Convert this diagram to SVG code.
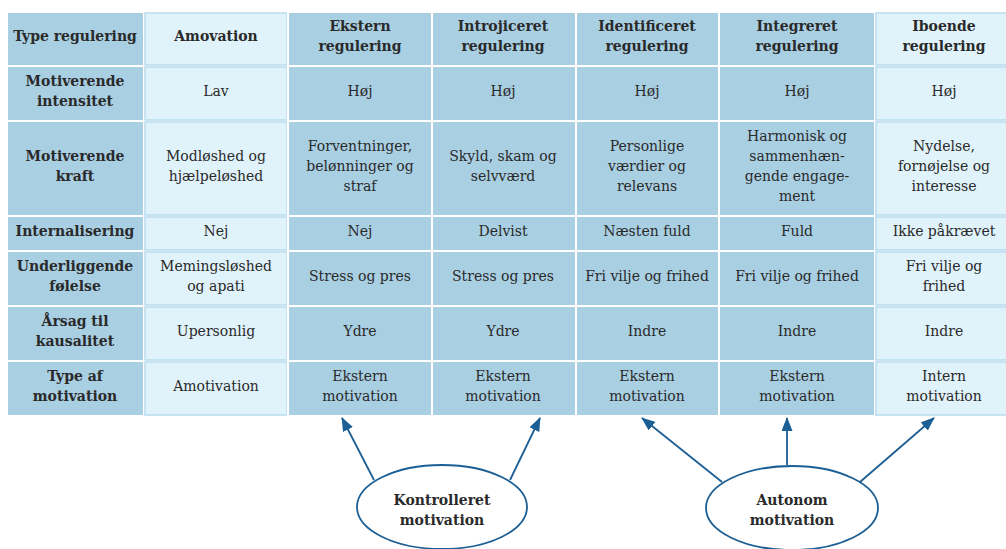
<svg xmlns="http://www.w3.org/2000/svg" width="1006" height="549" viewBox="0 0 1006 549">
<style>
.d{fill:#a9cfe3;stroke:#ffffff;stroke-width:2}
.l{fill:#e0f2fa;stroke:#b9dcee;stroke-width:1.5}
text{font-family:"DejaVu Serif","Liberation Serif",serif;font-size:14px;fill:#2a2a2a;text-anchor:middle}
.b{font-weight:bold}
.conn line{stroke:#1b5f95;stroke-width:1.8}
.ell{fill:#ffffff;stroke:#1b5f95;stroke-width:1.8}
</style>
<defs>
<marker id="ah" viewBox="0 0 14 11" refX="13" refY="5.5" markerWidth="14" markerHeight="11" markerUnits="userSpaceOnUse" orient="auto">
<path d="M0,0 L14,5.5 L0,11 z" fill="#1b5f95"/>
</marker>
</defs>
<rect width="1006" height="549" fill="#ffffff"/>
<g id="col0">
<rect class="d" x="7" y="12" width="137" height="54"/>
<rect class="d" x="7" y="66" width="137" height="55"/>
<rect class="d" x="7" y="121" width="137" height="95"/>
<rect class="d" x="7" y="216" width="137" height="35"/>
<rect class="d" x="7" y="251" width="137" height="55"/>
<rect class="d" x="7" y="306" width="137" height="55"/>
<rect class="d" x="7" y="361" width="137" height="55"/>
<text class="b" x="75" y="41">Type regulering</text>
<text class="b" x="75" y="86">Motiverende</text><text class="b" x="75" y="106">intensitet</text>
<text class="b" x="75" y="161">Motiverende</text><text class="b" x="75" y="181">kraft</text>
<text class="b" x="75" y="236">Internalisering</text>
<text class="b" x="75" y="271">Underliggende</text><text class="b" x="75" y="291">følelse</text>
<text class="b" x="75" y="326">Årsag til</text><text class="b" x="75" y="346">kausalitet</text>
<text class="b" x="75" y="381">Type af</text><text class="b" x="75" y="401">motivation</text>
</g>
<g id="col1">
<rect class="l" x="145" y="13" width="142" height="52"/>
<rect class="l" x="145" y="67" width="142" height="53"/>
<rect class="l" x="145" y="122" width="142" height="93"/>
<rect class="l" x="145" y="217" width="142" height="33"/>
<rect class="l" x="145" y="252" width="142" height="53"/>
<rect class="l" x="145" y="307" width="142" height="53"/>
<rect class="l" x="145" y="362" width="142" height="53"/>
<text class="b" x="216" y="41">Amovation</text>
<text x="216" y="96">Lav</text>
<text x="216" y="161">Modløshed og</text><text x="216" y="181">hjælpeløshed</text>
<text x="216" y="236">Nej</text>
<text x="216" y="271">Memingsløshed</text><text x="216" y="291">og apati</text>
<text x="216" y="336">Upersonlig</text>
<text x="216" y="391">Amotivation</text>
</g>
<g id="col2">
<rect class="d" x="288" y="12" width="144" height="54"/>
<rect class="d" x="288" y="66" width="144" height="55"/>
<rect class="d" x="288" y="121" width="144" height="95"/>
<rect class="d" x="288" y="216" width="144" height="35"/>
<rect class="d" x="288" y="251" width="144" height="55"/>
<rect class="d" x="288" y="306" width="144" height="55"/>
<rect class="d" x="288" y="361" width="144" height="55"/>
<text class="b" x="360" y="31">Ekstern</text><text class="b" x="360" y="51">regulering</text>
<text x="360" y="96">Høj</text>
<text x="360" y="151">Forventninger,</text><text x="360" y="171">belønninger og</text><text x="360" y="191">straf</text>
<text x="360" y="236">Nej</text>
<text x="360" y="281">Stress og pres</text>
<text x="360" y="336">Ydre</text>
<text x="360" y="381">Ekstern</text><text x="360" y="401">motivation</text>
</g>
<g id="col3">
<rect class="d" x="432" y="12" width="144" height="54"/>
<rect class="d" x="432" y="66" width="144" height="55"/>
<rect class="d" x="432" y="121" width="144" height="95"/>
<rect class="d" x="432" y="216" width="144" height="35"/>
<rect class="d" x="432" y="251" width="144" height="55"/>
<rect class="d" x="432" y="306" width="144" height="55"/>
<rect class="d" x="432" y="361" width="144" height="55"/>
<text class="b" x="503" y="31">Introjiceret</text><text class="b" x="503" y="51">regulering</text>
<text x="503" y="96">Høj</text>
<text x="503" y="161">Skyld, skam og</text><text x="503" y="181">selvværd</text>
<text x="503" y="236">Delvist</text>
<text x="503" y="281">Stress og pres</text>
<text x="503" y="336">Ydre</text>
<text x="503" y="381">Ekstern</text><text x="503" y="401">motivation</text>
</g>
<g id="col4">
<rect class="d" x="576" y="12" width="143" height="54"/>
<rect class="d" x="576" y="66" width="143" height="55"/>
<rect class="d" x="576" y="121" width="143" height="95"/>
<rect class="d" x="576" y="216" width="143" height="35"/>
<rect class="d" x="576" y="251" width="143" height="55"/>
<rect class="d" x="576" y="306" width="143" height="55"/>
<rect class="d" x="576" y="361" width="143" height="55"/>
<text class="b" x="647" y="31">Identificeret</text><text class="b" x="647" y="51">regulering</text>
<text x="647" y="96">Høj</text>
<text x="647" y="151">Personlige</text><text x="647" y="171">værdier og</text><text x="647" y="191">relevans</text>
<text x="647" y="236">Næsten fuld</text>
<text x="647" y="281">Fri vilje og frihed</text>
<text x="647" y="336">Indre</text>
<text x="647" y="381">Ekstern</text><text x="647" y="401">motivation</text>
</g>
<g id="col5">
<rect class="d" x="719" y="12" width="156" height="54"/>
<rect class="d" x="719" y="66" width="156" height="55"/>
<rect class="d" x="719" y="121" width="156" height="95"/>
<rect class="d" x="719" y="216" width="156" height="35"/>
<rect class="d" x="719" y="251" width="156" height="55"/>
<rect class="d" x="719" y="306" width="156" height="55"/>
<rect class="d" x="719" y="361" width="156" height="55"/>
<text class="b" x="797" y="31">Integreret</text><text class="b" x="797" y="51">regulering</text>
<text x="797" y="96">Høj</text>
<text x="797" y="141">Harmonisk og</text><text x="797" y="161">sammenhæn-</text><text x="797" y="181">gende engage-</text><text x="797" y="201">ment</text>
<text x="797" y="236">Fuld</text>
<text x="797" y="281">Fri vilje og frihed</text>
<text x="797" y="336">Indre</text>
<text x="797" y="381">Ekstern</text><text x="797" y="401">motivation</text>
</g>
<g id="col6">
<rect class="l" x="876" y="13" width="132" height="52"/>
<rect class="l" x="876" y="67" width="132" height="53"/>
<rect class="l" x="876" y="122" width="132" height="93"/>
<rect class="l" x="876" y="217" width="132" height="33"/>
<rect class="l" x="876" y="252" width="132" height="53"/>
<rect class="l" x="876" y="307" width="132" height="53"/>
<rect class="l" x="876" y="362" width="132" height="53"/>
<text class="b" x="944" y="31">Iboende</text><text class="b" x="944" y="51">regulering</text>
<text x="944" y="96">Høj</text>
<text x="944" y="151">Nydelse,</text><text x="944" y="171">fornøjelse og</text><text x="944" y="191">interesse</text>
<text x="944" y="236">Ikke påkrævet</text>
<text x="944" y="271">Fri vilje og</text><text x="944" y="291">frihed</text>
<text x="944" y="336">Indre</text>
<text x="944" y="381">Intern</text><text x="944" y="401">motivation</text>
</g>
<g class="conn" id="connectors">
<line x1="374" y1="480" x2="342" y2="418" marker-end="url(#ah)"/>
<line x1="510" y1="480" x2="540" y2="418" marker-end="url(#ah)"/>
<line x1="722" y1="482" x2="642" y2="418" marker-end="url(#ah)"/>
<line x1="787" y1="465" x2="787" y2="418" marker-end="url(#ah)"/>
<line x1="860" y1="482" x2="934" y2="418" marker-end="url(#ah)"/>
</g>
<g id="kontrolleret">
<ellipse class="ell" cx="442" cy="507" rx="85" ry="42"/>
<text class="b" x="442" y="505">Kontrolleret</text><text class="b" x="442" y="525">motivation</text>
</g>
<g id="autonom">
<ellipse class="ell" cx="792" cy="508" rx="86" ry="42"/>
<text class="b" x="792" y="505">Autonom</text><text class="b" x="792" y="525">motivation</text>
</g>
</svg>
